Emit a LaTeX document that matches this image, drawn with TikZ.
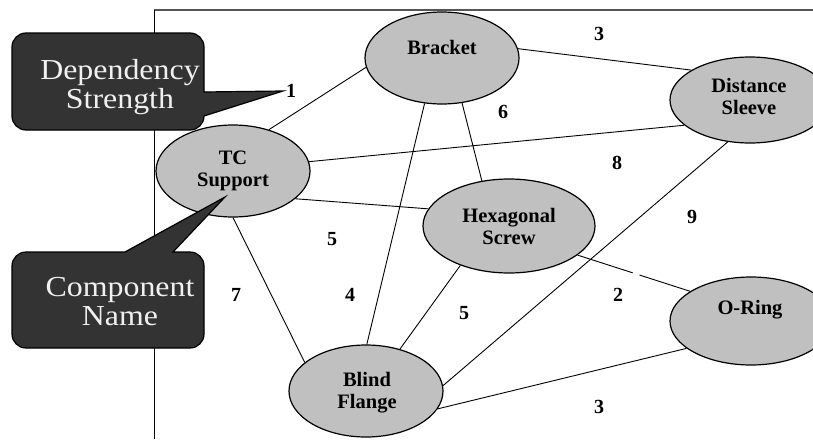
\documentclass[tikz,border=0pt]{standalone}
\usepackage{fontspec}
\setmainfont{Liberation Serif}
\usetikzlibrary{shapes.geometric,backgrounds}
\definecolor{compgray}{HTML}{C0C0C0}
\definecolor{calloutfill}{HTML}{333333}
\definecolor{framegray}{HTML}{555555}
\begin{document}
\begin{tikzpicture}[x=1pt,y=1pt,
  comp/.style={ellipse, draw=black, line width=1.2pt, fill=compgray, inner sep=0pt},
  lbl/.style={font=\fontsize{20.5}{22}\selectfont\bfseries, align=center, inner sep=0pt},
  num/.style={font=\fontsize{20}{22}\selectfont\bfseries, inner sep=0pt},
  edge/.style={draw=black, line width=0.9pt},
  callout/.style={fill=calloutfill, draw=black, line width=1.2pt},
  ctext/.style={font=\fontsize{29}{29}\selectfont, text=white!94!black, align=center, inner sep=0pt}]
\useasboundingbox (0,0) rectangle (813,-439);
\clip (0,0) rectangle (813,-439);

% components
\node[comp, minimum width=154pt, minimum height=92pt] (tc) at (233,-171) {};
\node[comp, minimum width=154pt, minimum height=92pt] (br) at (442,-58) {};
\node[comp, minimum width=160pt, minimum height=86pt] (ds) at (750,-100) {};
\node[comp, minimum width=172pt, minimum height=94pt] (hx) at (509,-226) {};
\node[comp, minimum width=162pt, minimum height=88pt] (or) at (751,-321) {};
\node[comp, minimum width=154pt, minimum height=92pt] (bf) at (366,-391) {};

% component names
\node[lbl] (tct) at (233,-171) {TC\\Support};
\node[lbl] (brt) at (442,-47) {Bracket};
\node[lbl] (dst) at (749,-96) {Distance\\Sleeve};
\node[lbl] (hxt) at (509,-226) {Hexagonal\\Screw};
\node[lbl] (ort) at (750,-310) {O-Ring};
\node[lbl] (bft) at (367,-393) {Blind\\Flange};

% frame and connectors
\begin{scope}[on background layer]
  \draw[framegray, line width=2pt] (154,-10) -- (813,-10);
  \draw[black, line width=1pt] (154,-10) -- (154,-439);
  \draw[edge] (tc.49) -- (br.187);
  \draw[edge] (br.7) -- (ds.153);
  \draw[edge] (tc.7.6) -- (ds.201);
  \draw[edge] (tc.-24.6) -- (hx.168);
  \draw[edge] (tc.-90) -- (bf.155);
  \draw[edge] (br.249) -- (bf.89);
  \draw[edge] (br.294) -- (hx.121);
  \draw[edge] (hx.219) -- (bf.51);
  \draw[edge] (ds.242) -- (bf.4.5);
  \path (hx.-23) -- (or.154) coordinate[pos=0.49] (g1) coordinate[pos=0.55] (g2);
  \draw[edge] (hx.-23) -- (g1);
  \draw[edge] (g2) -- (or.154);
  \draw[edge] (bf.-14) -- (or.203);
\end{scope}

% dependency strengths
\node[num] (n1) at (291,-91) {1};
\node[num] (n2) at (599,-34) {3};
\node[num] (n3) at (503,-112) {6};
\node[num] (n4) at (617,-163) {8};
\node[num] (n5) at (692,-217) {9};
\node[num] (n6) at (332,-239) {5};
\node[num] (n7) at (236,-295) {7};
\node[num] (n8) at (350,-295) {4};
\node[num] (n9) at (464,-313) {5};
\node[num] (n10) at (618,-295) {2};
\node[num] (n11) at (599,-407) {3};

% callouts
\draw[callout] (204,-116) arc[start angle=0, end angle=-90, radius=14]
  -- (26,-130) arc[start angle=270, end angle=180, radius=14]
  -- (12,-47) arc[start angle=180, end angle=90, radius=14]
  -- (190,-33) arc[start angle=90, end angle=0, radius=14]
  -- (204,-92) -- (283,-91) -- cycle;
\begin{scope}[shift={(120,-87)}, xscale=1.1]
  \node[ctext, transform shape] (dep) at (0,0) {Dependency\\Strength};
\end{scope}

\draw[callout] (125,-252) -- (225,-197) -- (173,-252)
  -- (190,-252) arc[start angle=90, end angle=0, radius=14]
  -- (204,-334) arc[start angle=0, end angle=-90, radius=14]
  -- (26,-348) arc[start angle=270, end angle=180, radius=14]
  -- (12,-266) arc[start angle=180, end angle=90, radius=14]
  -- cycle;
\begin{scope}[shift={(120,-302)}, xscale=1.1]
  \node[ctext, transform shape] (cmp) at (0,0) {Component\\Name};
\end{scope}
\end{tikzpicture}
\end{document}
